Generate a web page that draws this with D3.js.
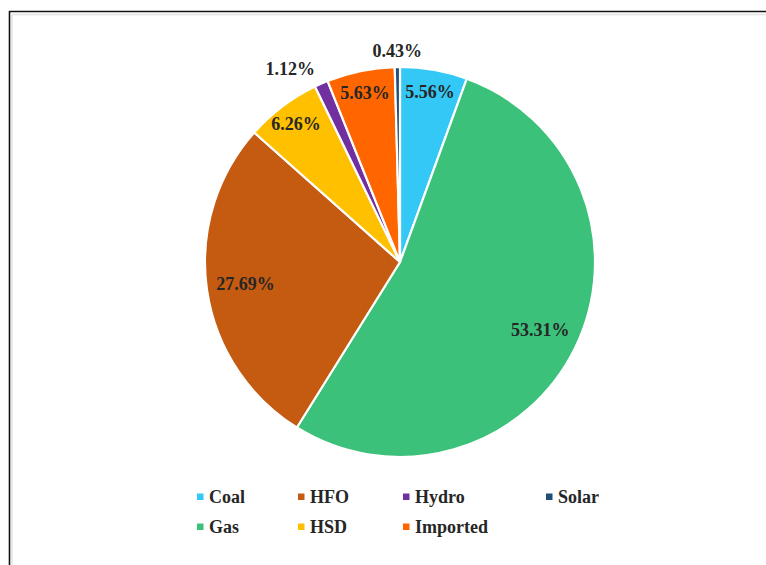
<!DOCTYPE html>
<html>
<head>
<meta charset="utf-8">
<script src="https://cdn.jsdelivr.net/npm/d3@7"></script>
<style>
  html, body { margin: 0; padding: 0; background: #ffffff; }
  svg { display: block; }
  text { font-family: "Liberation Serif", "Times New Roman", "DejaVu Serif", serif; font-weight: bold; }
</style>
</head>
<body>
<script>
// Electricity generation share by fuel type (%)
const categories = ["Coal", "Gas", "HFO", "HSD", "Hydro", "Imported", "Solar"];
const shares = [5.56, 53.31, 27.69, 6.26, 1.12, 5.63, 0.43];
const colors = ["#33C8F5", "#3CC17A", "#C55A11", "#FFC000", "#7030A0", "#FF6600", "#1F4E79"];

const W = 766, H = 565;
const cx = 400, cy = 262, R = 195;

const svg = d3.select("body").append("svg")
  .attr("width", W).attr("height", H);

// Frame lines (left and top edges)
svg.append("line").attr("x1", 9.5).attr("y1", 11).attr("x2", 9.5).attr("y2", H)
  .attr("stroke", "#111").attr("stroke-width", 1.6);
svg.append("line").attr("x1", 9).attr("y1", 11.5).attr("x2", W).attr("y2", 11.5)
  .attr("stroke", "#111").attr("stroke-width", 1.6);
svg.append("line").attr("x1", 12).attr("y1", 14.5).attr("x2", W).attr("y2", 14.5)
  .attr("stroke", "#e4e4e4").attr("stroke-width", 1.5);
svg.append("line").attr("x1", 12).attr("y1", 14).attr("x2", 12).attr("y2", H)
  .attr("stroke", "#e4e4e4").attr("stroke-width", 1.5);

const data = categories.map((c, i) => ({ name: c, value: shares[i], color: colors[i] }));

const pie = d3.pie().value(d => d.value).sort(null);
const arcs = pie(data);
const arc = d3.arc().innerRadius(0).outerRadius(R);

const g = svg.append("g").attr("transform", `translate(${cx},${cy})`);

g.selectAll("path.slice")
  .data(arcs)
  .join("path")
  .attr("class", "slice")
  .attr("d", arc)
  .attr("fill", d => d.data.color)
  .attr("stroke", "#ffffff")
  .attr("stroke-width", 2.2)
  .attr("stroke-linejoin", "round");

// Data labels: inside for larger slices, outside for the thinnest ones
const fmt = v => v.toFixed(2) + "%";
g.selectAll("text.lbl")
  .data(arcs)
  .join("text")
  .attr("class", "lbl")
  .each(function (d) {
    const a = (d.startAngle + d.endAngle) / 2;
    const v = d.data.value;
    let r, anchor = "middle";
    if (v < 2) {
      r = R * 1.08;
      const s = Math.sin(a);
      if (Math.abs(s) > 0.2) anchor = s < 0 ? "end" : "start";
    } else if (v > 20) {
      r = R * 0.8;
    } else {
      r = R * 0.885;
    }
    d3.select(this)
      .attr("x", Math.sin(a) * r)
      .attr("y", -Math.cos(a) * r)
      .attr("text-anchor", anchor);
  })
  .attr("dominant-baseline", "central")
  .attr("font-size", 18)
  .attr("fill", "#262626")
  .text(d => fmt(d.data.value));

// Legend laid out column by column, two rows
const legendCols = [197, 298, 403, 546];
const legendRows = [497, 527];
const legend = svg.append("g");
data.forEach((d, i) => {
  const col = Math.floor(i / 2), row = i % 2;
  const x = legendCols[col], y = legendRows[row];
  legend.append("rect")
    .attr("x", x).attr("y", y - 3.5)
    .attr("width", 6.5).attr("height", 6.5)
    .attr("fill", d.color);
  legend.append("text")
    .attr("x", x + 12).attr("y", y)
    .attr("dominant-baseline", "central")
    .attr("font-size", 18)
    .attr("fill", "#262626")
    .text(d.name);
});
</script>
</body>
</html>
